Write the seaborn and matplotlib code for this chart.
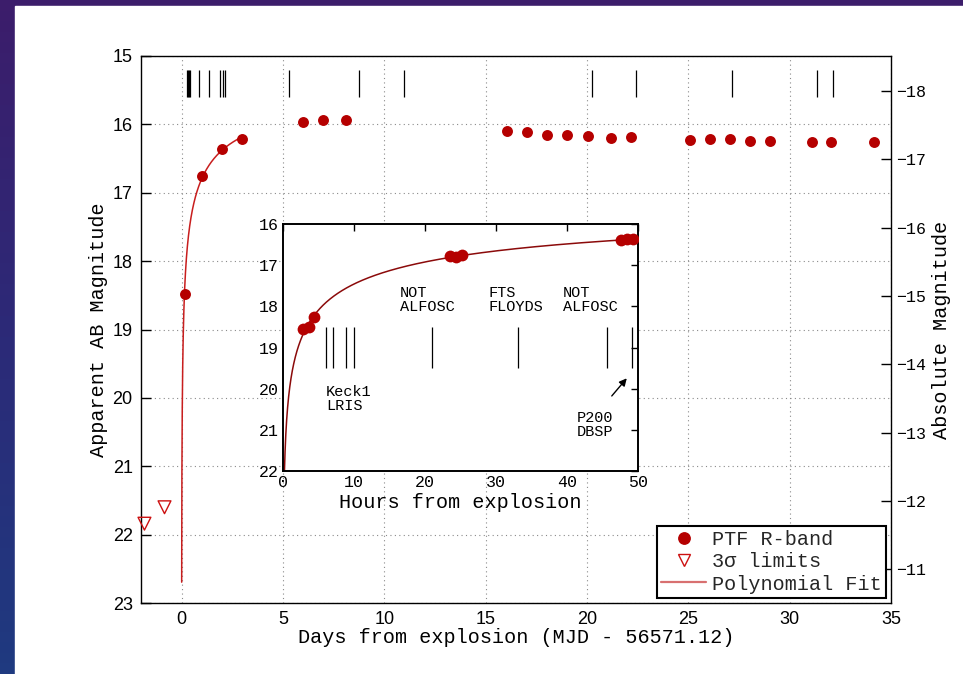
import numpy as np
import matplotlib
matplotlib.use("Agg")
import matplotlib.pyplot as plt
import seaborn as sns
from matplotlib.lines import Line2D
from matplotlib.patches import Rectangle
from matplotlib.colors import LinearSegmentedColormap

# ---------------- data ----------------
main_days = [0.15, 1.02, 2.01, 3.00, 5.99, 7.00, 8.10, 16.06, 17.05, 18.02, 19.01,
             20.03, 21.20, 22.17, 25.09, 26.09, 27.06, 28.05, 29.04, 31.08, 32.06, 34.14]
main_mag = [18.48, 16.76, 16.36, 16.22, 15.96, 15.93, 15.93, 16.10, 16.11, 16.16, 16.15,
            16.17, 16.20, 16.19, 16.23, 16.22, 16.22, 16.24, 16.25, 16.26, 16.26, 16.26]

limit_days = [-1.83, -0.84]
limit_mag = [21.84, 21.60]

inset_hours = [2.81, 3.75, 4.45, 23.5, 24.4, 25.2, 47.6, 48.4, 49.2]
inset_mag = [18.55, 18.49, 18.25, 16.77, 16.79, 16.74, 16.38, 16.37, 16.37]

spectra_days = [0.255, 0.297, 0.369, 0.418, 0.877, 1.377, 1.902, 2.049, 2.12,
                5.28, 8.77, 10.95, 20.26, 22.42, 27.14, 31.36, 32.12]

instrument_labels = ["NOT\nALFOSC", "FTS\nFLOYDS", "NOT\nALFOSC", "Keck1\nLRIS", "P200\nDBSP"]
label_hours = [16.5, 28.9, 39.4, 6.1, 41.4]
label_mags = [17.5, 17.5, 17.5, 19.92, 20.54]

distance_modulus = 33.51

main_xticks = [0, 5, 10, 15, 20, 25, 30, 35]
main_yticks = [15, 16, 17, 18, 19, 20, 21, 22, 23]
abs_yticks = [-18, -17, -16, -15, -14, -13, -12, -11]
inset_xticks = [0, 10, 20, 30, 40, 50]
inset_yticks = [16, 17, 18, 19, 20, 21, 22]

# ---------------- style ----------------
sns.set_theme(style="white")
plt.rcParams["font.family"] = ["Liberation Mono", "DejaVu Sans Mono"]
plt.rcParams["axes.unicode_minus"] = True

MONO = ["Liberation Mono", "DejaVu Sans Mono"]
SANS = ["Liberation Sans", "DejaVu Sans"]
RED = "#b50000"
FITRED = "#c81e1e"
DARKRED = "#8b0a0a"

W, H = 963, 674
fig = plt.figure(figsize=(W / 100, H / 100), dpi=100)

# slide background: gradient strips at left/top, white page
bg = fig.add_axes([0, 0, 1, 1], zorder=-10)
cmap = LinearSegmentedColormap.from_list("slide", ["#1f3a80", "#2c2a78", "#3c1d6b"])
bg.imshow(np.linspace(0, 1, 64).reshape(-1, 1), cmap=cmap, aspect="auto",
          extent=[0, 1, 0, 1], origin="lower")
bg.add_patch(Rectangle((15 / W, 0), 1, 1 - 6 / H, color="white", zorder=2))
bg.set_xlim(0, 1)
bg.set_ylim(0, 1)
bg.axis("off")

# ---------------- main axes ----------------
ax = fig.add_axes([141 / W, 1 - 603 / H, 750 / W, 547 / H])
ax.set_facecolor("none")

# polynomial fit (quadratic in log time) to the early data (hours)
fit_t = list(inset_hours) + [d * 24 for d in main_days if d <= 3.0]
fit_m = list(inset_mag) + [m for d, m in zip(main_days, main_mag) if d <= 3.0]
coef = np.polyfit(np.log10(fit_t), fit_m, 2)
hours_grid = np.geomspace(0.01, 72, 1500)
fit_mag = np.polyval(coef, np.log10(hours_grid))
keep = fit_mag <= 22.7

sns.lineplot(x=hours_grid[keep] / 24.0, y=fit_mag[keep], ax=ax, color=FITRED,
             lw=1.1, sort=False, estimator=None, zorder=2, legend=False)
sns.scatterplot(x=main_days, y=main_mag, ax=ax, color=RED, s=62, linewidth=0,
                zorder=4, legend=False)
sns.scatterplot(x=limit_days, y=limit_mag, ax=ax, marker="v", s=85,
                facecolor="none", edgecolor="#cc1010", linewidth=1.0,
                zorder=4, legend=False, clip_on=False)
ax.vlines(spectra_days, 15.2, 15.6, color="black", lw=0.9, zorder=3)

ax.set_xlim(-2, 35)
ax.set_ylim(23, 15)
ax.set_xticks(main_xticks)
ax.set_yticks(main_yticks)
ax.grid(True, color="#8a8a8a", lw=0.8, linestyle=(0, (1, 3)))
ax.tick_params(direction="in", length=7, width=1, top=False, right=False,
               labelsize=13, pad=6, colors="black")
for lab in ax.get_xticklabels() + ax.get_yticklabels():
    lab.set_family(SANS)
for s in ax.spines.values():
    s.set_color("black")
    s.set_linewidth(1.0)

ax.set_xlabel("Days from explosion (MJD - 56571.12)", fontsize=14.5,
              family=MONO, labelpad=0, color="black")
ax.set_ylabel("Apparent AB Magnitude", fontsize=14.5, family=MONO,
              labelpad=3, color="black")

# absolute magnitude axis
ax2 = ax.twinx()
ax2.set_ylim(23 - distance_modulus, 15 - distance_modulus)
ax2.set_yticks(abs_yticks)
ax2.tick_params(direction="in", length=7, width=1, labelsize=12, pad=4, colors="black")
for lab in ax2.get_yticklabels():
    lab.set_family(MONO)
ax2.set_ylabel("Absolute Magnitude", fontsize=14.5, family=MONO, labelpad=4, color="black")
ax2.grid(False)
for s in ax2.spines.values():
    s.set_visible(False)

handles = [
    Line2D([], [], marker="o", color=RED, ls="none", markersize=8.2),
    Line2D([], [], marker="v", markerfacecolor="none", markeredgecolor="#cc1010",
           ls="none", markersize=8.5, markeredgewidth=1.0),
    Line2D([], [], color="#d87070", lw=1.6),
]
leg = ax2.legend(handles, ["PTF R-band", "3\u03c3 limits", "Polynomial Fit"],
                 loc="lower right", prop={"family": MONO, "size": 14.5},
                 frameon=True, fancybox=False, framealpha=1, edgecolor="black",
                 borderaxespad=0.25, borderpad=0.22, labelspacing=0.16,
                 handlelength=2.2, handletextpad=0.3)
leg.get_frame().set_linewidth(1.5)

# ---------------- inset ----------------
ins = fig.add_axes([282.7 / W, 1 - 470.7 / H, 355.6 / W, 246.4 / H])
ins.set_facecolor("white")
ins_grid = np.geomspace(0.01, 50, 1500)
ins_fit = np.polyval(coef, np.log10(ins_grid))
sns.lineplot(x=ins_grid, y=ins_fit, ax=ins, color=DARKRED, lw=1.1, sort=False,
             estimator=None, zorder=2, legend=False)
sns.scatterplot(x=inset_hours, y=inset_mag, ax=ins, color=RED, s=72, linewidth=0,
                zorder=4, legend=False)
early_hours = [d * 24 for d in spectra_days if d * 24 < 50]
ins.vlines(early_hours, 18.51, 19.51, color="black", lw=0.9, zorder=3)
for txt, hx, my in zip(instrument_labels, label_hours, label_mags):
    ins.text(hx, my, txt, family=MONO, fontsize=11, va="top", ha="left",
             linespacing=1.0, color="black")
ins.annotate("", xy=(48.38, 19.75), xytext=(46.27, 20.18),
             arrowprops=dict(arrowstyle="-|>", color="black", lw=1.0,
                             mutation_scale=11, shrinkA=0, shrinkB=0))
ins.set_xlim(0, 50)
ins.set_ylim(22, 16)
ins.set_xticks(inset_xticks)
ins.set_yticks(inset_yticks)
ins.grid(False)
ins.tick_params(direction="in", length=5, width=1, top=True, right=True,
                labelsize=12, pad=3, colors="black")
for lab in ins.get_xticklabels() + ins.get_yticklabels():
    lab.set_family(MONO)
for s in ins.spines.values():
    s.set_color("black")
    s.set_linewidth(1.4)
ins.set_xlabel("Hours from explosion", fontsize=14.5, family=MONO, labelpad=2,
               color="black")
ins.set_ylabel("")

fig.savefig("out.png", dpi=100)
